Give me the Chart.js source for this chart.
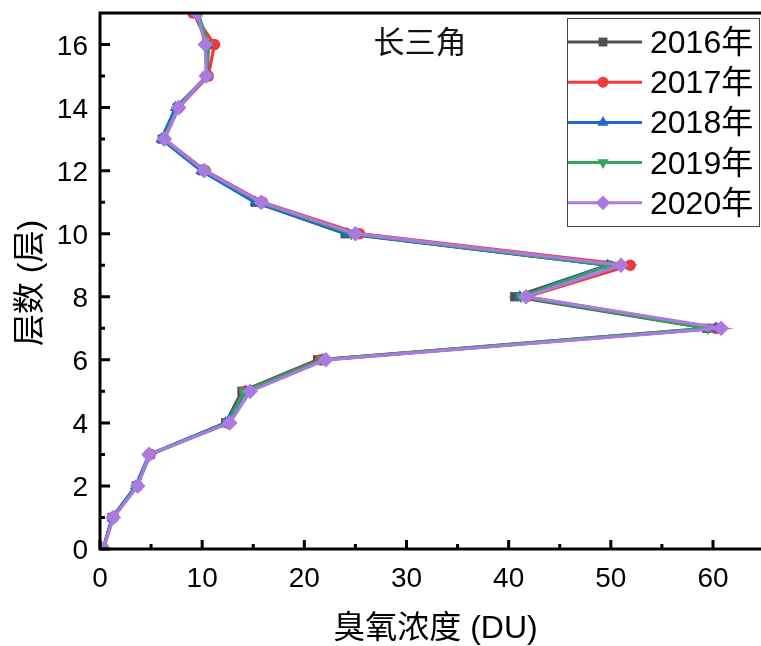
<!DOCTYPE html>
<html>
<head>
<meta charset="utf-8">
<script src="https://cdn.jsdelivr.net/npm/chart.js@4"></script>
<style>
  html, body { margin: 0; padding: 0; background: #fff; }
  #wrap { width: 761px; height: 646px; position: relative; }
</style>
</head>
<body>
<div id="wrap"><canvas id="c" width="761" height="646"></canvas></div>
<script>
// Vertical ozone profile by model level, Yangtze River Delta
const levels = [0, 1, 2, 3, 4, 5, 6, 7, 8, 9, 10, 11, 12, 13, 14, 15, 16, 17];
const ozone2016 = [0.3, 1.2, 3.6, 4.9, 12.3, 13.9, 21.3, 59.4, 40.6, 49.7, 24.0, 15.2, 10.0, 6.1, 7.6, 10.5, 10.6, 9.2];
const ozone2017 = [0.3, 1.3, 3.6, 4.9, 12.5, 14.2, 21.6, 60.3, 41.8, 51.9, 25.4, 15.9, 10.3, 6.3, 7.7, 10.6, 11.2, 9.1];
const ozone2018 = [0.3, 1.2, 3.5, 4.8, 12.3, 14.3, 21.8, 60.3, 41.1, 49.7, 24.2, 15.2, 9.9, 6.0, 7.4, 10.5, 10.5, 9.5];
const ozone2019 = [0.3, 1.3, 3.6, 4.9, 12.5, 14.1, 21.7, 59.5, 41.2, 49.9, 24.6, 15.6, 10.2, 6.2, 7.6, 10.4, 10.6, 9.6];
const ozone2020 = [0.3, 1.3, 3.7, 4.8, 12.7, 14.7, 22.1, 60.8, 41.7, 51.0, 25.0, 15.8, 10.2, 6.3, 7.7, 10.4, 10.3, 9.5];

const seriesNames = ['2016年', '2017年', '2018年', '2019年', '2020年'];
const xTickValues = [0, 10, 20, 30, 40, 50, 60];
const xMinorValues = [5, 15, 25, 35, 45, 55];
const yTickValues = [0, 2, 4, 6, 8, 10, 12, 14, 16];
const yMinorValues = [1, 3, 5, 7, 9, 11, 13, 15];
const chartTitle = '长三角';
const xTitle = '臭氧浓度 (DU)';
const yTitle = '层数 (层)';

const styles = [
  { color: '#505050', point: 'rect', radius: 6.6, rotation: 0 },
  { color: '#f0393c', point: 'circle', radius: 5.8, rotation: 0 },
  { color: '#1c66d8', point: 'triangle', radius: 6.8, rotation: 0 },
  { color: '#34a45c', point: 'triangle', radius: 6.8, rotation: 180 },
  { color: '#a97be0', point: 'rectRot', radius: 7.8, rotation: 0 }
];
const allSeries = [ozone2016, ozone2017, ozone2018, ozone2019, ozone2020];

const datasets = allSeries.map((vals, i) => ({
  label: seriesNames[i],
  data: vals.map((v, k) => ({ x: v, y: levels[k] })),
  borderColor: styles[i].color,
  backgroundColor: styles[i].color,
  pointBackgroundColor: styles[i].color,
  pointBorderColor: styles[i].color,
  pointBorderWidth: 0,
  pointStyle: styles[i].point,
  pointRotation: styles[i].rotation,
  pointRadius: styles[i].radius,
  pointHoverRadius: styles[i].radius,
  borderWidth: 3.2,
  tension: 0,
  fill: false,
  order: allSeries.length - 1 - i
}));

const NUM_FONT = '"Liberation Sans", Arial, sans-serif';
const CJK_FONT = '"Liberation Sans", "Noto Sans CJK SC", sans-serif';

const frame = {
  id: 'frame',
  afterDraw(chart) {
    const ctx = chart.ctx;
    const a = chart.chartArea;
    const xs = chart.scales.x, ys = chart.scales.y;
    ctx.save();
    ctx.strokeStyle = '#000';
    ctx.fillStyle = '#000';
    ctx.lineWidth = 3;
    ctx.lineCap = 'butt';
    // axis lines and top border
    ctx.beginPath();
    ctx.moveTo(a.left, a.top); ctx.lineTo(a.right, a.top);
    ctx.moveTo(a.left, a.top - 1.5); ctx.lineTo(a.left, a.bottom + 1.5);
    ctx.moveTo(a.left - 1.5, a.bottom); ctx.lineTo(a.right, a.bottom);
    ctx.stroke();
    // inward ticks
    ctx.beginPath();
    xTickValues.forEach(v => { const p = xs.getPixelForValue(v); ctx.moveTo(p, a.bottom); ctx.lineTo(p, a.bottom - 9); });
    xMinorValues.forEach(v => { const p = xs.getPixelForValue(v); ctx.moveTo(p, a.bottom); ctx.lineTo(p, a.bottom - 5); });
    yTickValues.forEach(v => { const p = ys.getPixelForValue(v); ctx.moveTo(a.left, p); ctx.lineTo(a.left + 10, p); });
    yMinorValues.forEach(v => { const p = ys.getPixelForValue(v); ctx.moveTo(a.left, p); ctx.lineTo(a.left + 5, p); });
    ctx.stroke();
    // tick labels
    ctx.font = '28px ' + NUM_FONT;
    ctx.textAlign = 'center';
    ctx.textBaseline = 'alphabetic';
    xTickValues.forEach(v => ctx.fillText(String(v), xs.getPixelForValue(v), a.bottom + 38));
    ctx.textAlign = 'right';
    yTickValues.forEach(v => ctx.fillText(String(v), a.left - 12, ys.getPixelForValue(v) + 10));
    // axis titles
    ctx.font = '32px ' + CJK_FONT;
    ctx.textAlign = 'center';
    ctx.fillText(xTitle, (a.left + a.right) / 2 + 5, 638);
    ctx.save();
    ctx.translate(40, 283);
    ctx.rotate(-Math.PI / 2);
    ctx.fillText(yTitle, 0, 0);
    ctx.restore();
    // panel title
    ctx.font = '31px "Noto Sans CJK SC", sans-serif';
    ctx.fillStyle = '#111';
    ctx.fillText(chartTitle, 420, 53);
    // legend
    const lx = 567, ly = 18, lw = 193, lh = 209;
    ctx.lineWidth = 1;
    ctx.strokeStyle = '#444';
    ctx.fillStyle = '#fff';
    ctx.fillRect(lx, ly, lw, lh);
    ctx.strokeRect(lx + 0.5, ly + 0.5, lw - 1, lh - 1);
    seriesNames.forEach((name, i) => {
      const cy = 42 + i * 40.2;
      const s = styles[i];
      ctx.strokeStyle = s.color;
      ctx.lineWidth = 3;
      ctx.beginPath(); ctx.moveTo(lx + 1, cy); ctx.lineTo(642, cy); ctx.stroke();
      ctx.fillStyle = s.color;
      Chart.helpers.drawPoint(ctx, { pointStyle: s.point, rotation: s.rotation, radius: s.radius * 0.95, borderWidth: 0 }, 603, cy);
      ctx.fillStyle = '#000';
      ctx.font = '32px ' + CJK_FONT;
      ctx.textAlign = 'left';
      ctx.fillText(name, 650, cy + 11);
    });
    ctx.restore();
  }
};

new Chart(document.getElementById('c'), {
  type: 'line',
  data: { datasets },
  options: {
    responsive: false,
    animation: false,
    layout: { autoPadding: false, padding: { left: 100, top: 13, right: 0, bottom: 97 } },
    plugins: { legend: { display: false }, tooltip: { enabled: false } },
    scales: {
      x: { type: 'linear', min: 0, max: 64.7, display: false },
      y: { type: 'linear', min: 0, max: 17, display: false }
    }
  },
  plugins: [frame]
});
</script>
</body>
</html>
